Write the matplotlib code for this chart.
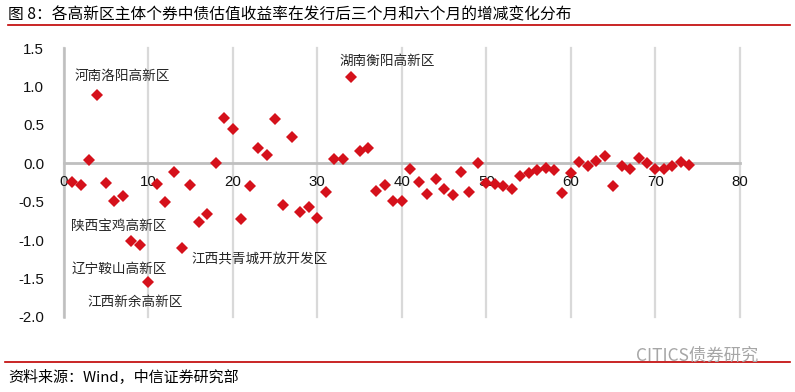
import matplotlib.pyplot as plt
from matplotlib.lines import Line2D

plt.rcParams['font.family'] = ['Noto Sans CJK SC', 'DejaVu Sans']

# 个券序号与收益率增减变化（%）
bond_idx = list(range(1, 75))
yield_change = [
    -0.24, -0.28, 0.04, 0.89, -0.26, -0.49, -0.43, -1.01, -1.06, -1.55,
    -0.27, -0.50, -0.11, -1.11, -0.28, -0.76, -0.66, 0.00, 0.59, 0.45,
    -0.73, -0.30, 0.20, 0.11, 0.58, -0.54, 0.34, -0.63, -0.57, -0.71,
    -0.37, 0.05, 0.06, 1.13, 0.16, 0.20, -0.36, -0.28, -0.49, -0.49,
    -0.07, -0.25, -0.40, -0.20, -0.33, -0.41, -0.11, -0.37, 0.00, -0.26,
    -0.27, -0.29, -0.33, -0.17, -0.13, -0.09, -0.06, -0.09, -0.39, -0.12,
    0.02, -0.03, 0.03, 0.09, -0.30, -0.04, -0.07, 0.07, 0.00, -0.07,
    -0.07, -0.03, 0.02, -0.02,
]

# 标注：名称、位置
labels = ['河南洛阳高新区', '湖南衡阳高新区', '陕西宝鸡高新区',
          '辽宁鞍山高新区', '江西新余高新区', '江西共青城开放开发区']
label_x = [1.3, 32.6, 0.9, 0.9, 2.8, 15.1]
label_y = [1.14, 1.34, -0.82, -1.37, -1.81, -1.24]

x_ticks = [0, 10, 20, 30, 40, 50, 60, 70, 80]
y_ticks = [-2.0, -1.5, -1.0, -0.5, 0.0, 0.5, 1.0, 1.5]

red = '#D5111B'
grey_axis = '#BFBFBF'
grey_grid = '#D9D9D9'
txt = '#262626'

fig = plt.figure(figsize=(7.95, 3.92), dpi=100)
ax = fig.add_axes([0.0801, 0.1921, 0.8507, 0.6847])

ax.plot(bond_idx, yield_change, linestyle='none', marker='D',
        markersize=6.6, color=red, markeredgewidth=0, zorder=5,
        clip_on=False)

ax.set_xlim(0, 80)
ax.set_ylim(-2.0, 1.5)
ax.set_xticks(x_ticks)
ax.set_xticklabels([])
ax.set_yticks(y_ticks)
ax.set_yticklabels([f'{v:.1f}' for v in y_ticks], family='Liberation Sans',
                   fontsize=10.8, color='#111111')
ax.tick_params(axis='both', length=0)
ax.tick_params(axis='y', pad=14)

ax.grid(axis='x', color=grey_grid, linewidth=1.6)
for gl in ax.get_xgridlines():
    gl.set_clip_on(False)
ax.set_axisbelow(True)

for s in ['top', 'right', 'bottom']:
    ax.spines[s].set_visible(False)
ax.spines['left'].set_color(grey_axis)
ax.spines['left'].set_linewidth(1.8)
ax.axhline(0, color=grey_axis, linewidth=2.0, zorder=2, clip_on=False)

# x轴刻度标签紧贴0轴下方
for v in x_ticks:
    ax.annotate(str(v), xy=(v, 0), xytext=(0, -8.5), textcoords='offset points',
                ha='center', va='top', family='Liberation Sans',
                fontsize=10.8, color='#111111', zorder=3,
                annotation_clip=False)

for name, lx, ly in zip(labels, label_x, label_y):
    ax.text(lx, ly, name, fontsize=9.8, color=txt, ha='left', va='center',
            zorder=4)

# 标题与红线
fig.text(0.010, 0.962, '图 8：各高新区主体个券中债估值收益率在发行后三个月和六个月的增减变化分布',
         fontsize=11.3, color='#000000', ha='left', va='center')
fig.add_artist(Line2D([0.010, 0.994], [0.935, 0.935], color='#C00000',
                      linewidth=1.2, transform=fig.transFigure))

# 底部来源
fig.add_artist(Line2D([0.006, 0.994], [0.077, 0.077], color='#C00000',
                      linewidth=1.2, transform=fig.transFigure))
fig.text(0.010, 0.036, '资料来源：Wind，中信证券研究部', fontsize=10.8,
         color='#000000', ha='left', va='center')
fig.text(0.800, 0.092, 'CITICS债券研究', fontsize=12.5, color='#A6A6A6',
         ha='left', va='center', zorder=10)

fig.savefig('out.png', dpi=100)
